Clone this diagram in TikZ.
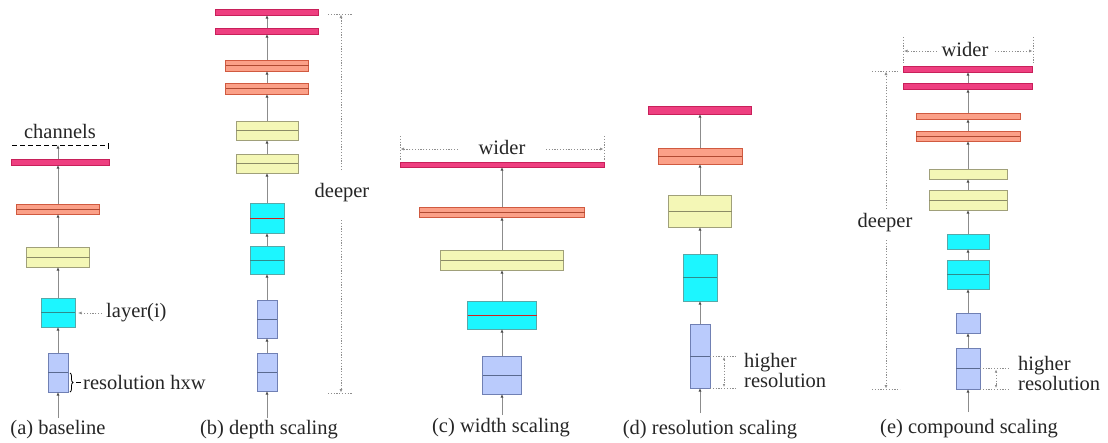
\documentclass[tikz,border=0pt]{standalone}
\usepackage{fontspec}
\setmainfont{Liberation Serif}
\newfontfamily\lblfont{Liberation Serif}
\usetikzlibrary{arrows.meta,decorations.pathreplacing}

\definecolor{pinkF}{HTML}{EE3F80}
\definecolor{pinkD}{HTML}{C8205A}
\definecolor{oraF}{HTML}{FBA088}
\definecolor{oraD}{HTML}{D05A40}
\definecolor{oraM}{HTML}{B04A32}
\definecolor{yelF}{HTML}{F4F7B6}
\definecolor{yelD}{HTML}{A0A07A}
\definecolor{yelM}{HTML}{8C8C66}
\definecolor{cyaF}{HTML}{1CF6FF}
\definecolor{cyaD}{HTML}{58A8A8}
\definecolor{cyaM}{HTML}{2E8C8C}
\definecolor{bluF}{HTML}{BACBFC}
\definecolor{bluD}{HTML}{7080B4}
\definecolor{bluM}{HTML}{5A6A90}
\definecolor{flowC}{HTML}{8C8C8C}
\definecolor{tipC}{HTML}{505050}
\definecolor{guideC}{HTML}{8E8E8E}
\definecolor{midRed}{HTML}{D02020}

\tikzset{
  txt/.style={font=\lblfont\fontsize{20.5}{18}\selectfont, inner sep=0pt, text=black!85},
  blk/.style={rectangle, inner sep=0pt, outer sep=0pt, line width=0.8pt},
  pinkbox/.style={blk, fill=pinkF, draw=pinkD},
  orabox/.style={blk, fill=oraF, draw=oraD},
  yelbox/.style={blk, fill=yelF, draw=yelD},
  cyabox/.style={blk, fill=cyaF, draw=cyaD},
  blubox/.style={blk, fill=bluF, draw=bluD},
  oramid/.style={draw=oraM, line width=0.9pt},
  yelmid/.style={draw=yelM, line width=0.9pt},
  cyamid/.style={draw=cyaM, line width=0.9pt},
  redmid/.style={draw=midRed, line width=0.9pt},
  blumid/.style={draw=bluM, line width=0.9pt},
  flow/.style={draw=flowC, line width=0.9pt, -{Latex[length=3.5pt,width=3pt,color=tipC]}},
  guide/.style={draw=guideC, line width=0.7pt, dash pattern=on 1.2pt off 1.6pt},
  guidearrow/.style={guide, -{Latex[length=3.5pt,width=3pt,color=guideC]}},
  twoheads/.style={guide, {Latex[length=3pt,width=2.5pt,color=guideC]}-{Latex[length=3pt,width=2.5pt,color=guideC]}},
}

\begin{document}
\begin{tikzpicture}[x=1pt,y=-1pt]
\fill[white] (0,0) rectangle (1108,442);
\useasboundingbox (0,0) rectangle (1108,442);

% ---------------- (a) baseline ----------------
\coordinate (a0) at (58,418);
\node[blubox, minimum width=20, minimum height=39] (a1) at (58,372.5) {};
\node[cyabox, minimum width=34, minimum height=29] (a2) at (58,312.5) {};
\node[yelbox, minimum width=63, minimum height=20] (a3) at (58,257) {};
\node[orabox, minimum width=83, minimum height=10] (a4) at (58,209) {};
\node[pinkbox, minimum width=98, minimum height=6] (a5) at (60,162) {};
\coordinate (ach) at (58,145);
\draw[blumid] (a1.west) -- (a1.east);
\draw[cyamid] (a2.west) -- (a2.east);
\draw[yelmid] (a3.west) -- (a3.east);
\draw[oramid] (a4.west) -- (a4.east);
\foreach \p/\q in {a0/a1.south, a1.north/a2.south, a2.north/a3.south, a3.north/a4.south}
  \draw[flow] (\p) -- (\q);
\draw[flow] (a4.north) -- (a4.north |- a5.south);
\draw[flow] (a5.north -| a4.north) -- (ach);
\draw[line width=1pt, dash pattern=on 5pt off 3pt] (12,145) -- (108,145);
\draw[line width=0.7pt] (108.5,143) -- (108.5,149);
\node[txt] (chan) at (60,131) {channels};
\node[txt, anchor=west] (lay) at (106,313) {layer(i)};
\draw[guidearrow] (102,313) -- (78,313);
\draw[line width=0.8pt, decorate, decoration={brace, amplitude=3pt}] (70,373) -- (70,392);
\draw[line width=0.8pt] (76,382.5) -- (81,382.5);
\node[txt, anchor=west] (res) at (83,382) {resolution hxw};
\node[txt] (capa) at (58,430) {(a) baseline};

% ---------------- (b) depth scaling ----------------
\coordinate (b0) at (267,418);
\node[blubox, minimum width=20, minimum height=38] (b1) at (267,372) {};
\node[blubox, minimum width=20, minimum height=38] (b2) at (267,319) {};
\node[cyabox, minimum width=34, minimum height=28] (b3) at (267,260) {};
\node[cyabox, minimum width=34, minimum height=30] (b4) at (267,218) {};
\node[yelbox, minimum width=62, minimum height=19] (b5) at (267,163.5) {};
\node[yelbox, minimum width=62, minimum height=19] (b6) at (267,130.5) {};
\node[orabox, minimum width=83, minimum height=11] (b7) at (267,88.5) {};
\node[orabox, minimum width=83, minimum height=11] (b8) at (267,65.5) {};
\node[pinkbox, minimum width=103, minimum height=6] (b9) at (267,31) {};
\node[pinkbox, minimum width=103, minimum height=6] (b10) at (267,12) {};
\draw[blumid] (b1.west) -- (b1.east);
\draw[blumid] (b2.west) -- (b2.east);
\draw[cyamid] (b3.west) -- (b3.east);
\draw[redmid] (b4.west) -- (b4.east);
\draw[yelmid] (b5.west) -- (b5.east);
\draw[yelmid] (b6.west) -- (b6.east);
\draw[oramid] (b7.west) -- (b7.east);
\draw[oramid] (b8.west) -- (b8.east);
\foreach \p/\q in {b0/b1.south, b1.north/b2.south, b2.north/b3.south, b3.north/b4.south,
  b4.north/b5.south, b5.north/b6.south, b6.north/b7.south, b7.north/b8.south,
  b8.north/b9.south, b9.north/b10.south}
  \draw[flow] (\p) -- (\q);
\node[txt] (deepb) at (342,193) {deeper};
\draw[guide] (328,14) -- (353,14);
\draw[guide] (328,393) -- (353,393);
\draw[guidearrow] (341,170) -- (341,14.5);
\draw[guidearrow] (341,220) -- (341,392.5);
\node[txt] (capb) at (269,430) {(b) depth scaling};

% ---------------- (c) width scaling ----------------
\coordinate (c0) at (502,415);
\node[blubox, minimum width=39, minimum height=38] (c1) at (502,375) {};
\node[cyabox, minimum width=69, minimum height=28] (c2) at (502,315) {};
\node[yelbox, minimum width=123, minimum height=20] (c3) at (502,260) {};
\node[orabox, minimum width=165, minimum height=10] (c4) at (502,212) {};
\node[pinkbox, minimum width=204, minimum height=5] (c5) at (502,164.5) {};
\draw[blumid] (c1.west) -- (c1.east);
\draw[redmid] (c2.west) -- (c2.east);
\draw[yelmid] (c3.west) -- (c3.east);
\draw[oramid] (c4.west) -- (c4.east);
\foreach \p/\q in {c0/c1.south, c1.north/c2.south, c2.north/c3.south, c3.north/c4.south, c4.north/c5.south}
  \draw[flow] (\p) -- (\q);
\node[txt] (widc) at (502,147) {wider};
\draw[guide] (400,136) -- (400,161);
\draw[guide] (604,136) -- (604,161);
\draw[guidearrow] (458,149) -- (400.5,149);
\draw[guidearrow] (546,149) -- (603.5,149);
\node[txt] (capc) at (501,428) {(c) width scaling};

% ---------------- (d) resolution scaling ----------------
\coordinate (d0) at (700,413);
\node[blubox, minimum width=20, minimum height=64] (d1) at (700,356) {};
\node[cyabox, minimum width=34, minimum height=47] (d2) at (700,277.5) {};
\node[yelbox, minimum width=63, minimum height=32] (d3) at (700,211) {};
\node[orabox, minimum width=84, minimum height=16] (d4) at (700,156) {};
\node[pinkbox, minimum width=103, minimum height=8] (d5) at (700,110) {};
\draw[blumid] (d1.west) -- (d1.east);
\draw[cyamid] (d2.west) -- (d2.east);
\draw[yelmid] (d3.west) -- (d3.east);
\draw[oramid] (d4.west) -- (d4.east);
\foreach \p/\q in {d0/d1.south, d1.north/d2.south, d2.north/d3.south, d3.north/d4.south, d4.north/d5.south}
  \draw[flow] (\p) -- (\q);
\draw[guide] (d1.east) -- ++(26,0);
\draw[guide] (d1.south east) -- ++(26,0);
\draw[twoheads] (724,357) -- (724,387);
\node[txt, anchor=west, align=left] (hrd) at (744,370.5) {higher\\resolution};
\node[txt] (capd) at (710,430) {(d) resolution scaling};

% ---------------- (e) compound scaling ----------------
\coordinate (e0) at (968,412);
\node[blubox, minimum width=24, minimum height=41] (e1) at (968,368.5) {};
\node[blubox, minimum width=24, minimum height=20] (e2) at (968,323) {};
\node[cyabox, minimum width=42, minimum height=29] (e3) at (968,274.5) {};
\node[cyabox, minimum width=42, minimum height=15] (e4) at (968,241.5) {};
\node[yelbox, minimum width=78, minimum height=20] (e5) at (968,200) {};
\node[yelbox, minimum width=78, minimum height=10] (e6) at (968,174) {};
\node[orabox, minimum width=104, minimum height=10] (e7) at (968,136) {};
\node[orabox, minimum width=104, minimum height=6] (e8) at (968,116) {};
\node[pinkbox, minimum width=129, minimum height=6] (e9) at (968,86) {};
\node[pinkbox, minimum width=129, minimum height=6] (e10) at (968,69) {};
\draw[blumid] (e1.west) -- (e1.east);
\draw[cyamid] (e3.west) -- (e3.east);
\draw[yelmid] (e5.west) -- (e5.east);
\draw[oramid] (e7.west) -- (e7.east);
\foreach \p/\q in {e0/e1.south, e1.north/e2.south, e2.north/e3.south, e3.north/e4.south,
  e4.north/e5.south, e5.north/e6.south, e6.north/e7.south, e7.north/e8.south,
  e8.north/e9.south, e9.north/e10.south}
  \draw[flow] (\p) -- (\q);
% wider
\node[txt] (wide) at (965,49) {wider};
\draw[guide] (903.5,37) -- (903.5,63);
\draw[guide] (1033,37) -- (1033,63);
\draw[guidearrow] (937,51) -- (904,51);
\draw[guidearrow] (995,51) -- (1032.5,51);
% deeper
\node[txt] (deepe) at (885,223) {deeper};
\draw[guide] (872,71) -- (900,71);
\draw[guide] (872,389) -- (900,389);
\draw[guidearrow] (886,209) -- (886,71.5);
\draw[guidearrow] (886,240) -- (886,388.5);
% higher resolution
\draw[guide] (e1.east) -- ++(30,0);
\draw[guide] (e1.south east) -- ++(30,0);
\draw[twoheads] (996,369.5) -- (996,388);
\node[txt, anchor=west, align=left] (hre) at (1018,373.5) {higher\\resolution};
\node[txt] (cape) at (969,429) {(e) compound scaling};
\end{tikzpicture}
\end{document}
